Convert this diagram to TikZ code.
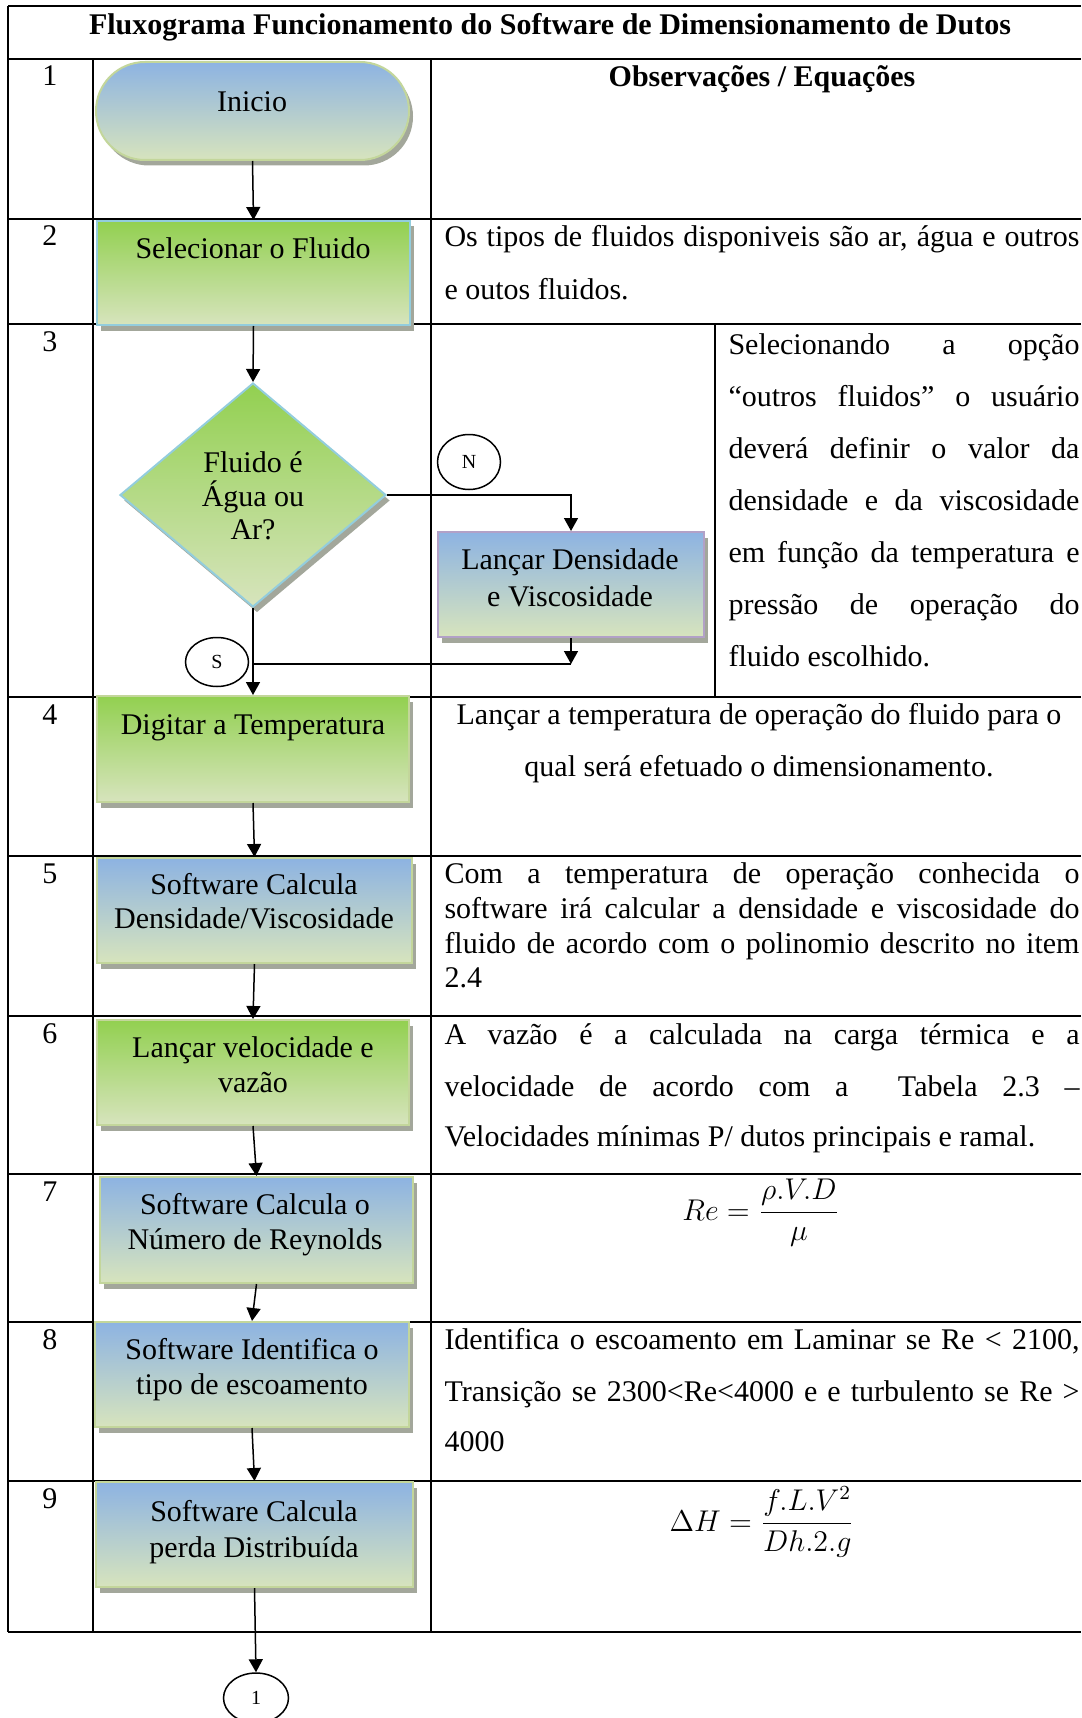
\documentclass[tikz,border=0pt]{standalone}
\usepackage{fontspec}
\setmainfont{Liberation Serif}
\usetikzlibrary{shapes.geometric,arrows.meta,shadows}
\definecolor{gtop}{HTML}{92D050}
\definecolor{btop}{HTML}{8DB3E2}
\definecolor{lbot}{HTML}{D7E4BD}
\definecolor{bdgreen}{HTML}{C3D69B}
\definecolor{bdblue}{HTML}{93CDDD}
\definecolor{bdpurple}{HTML}{B2A1C7}
\definecolor{shd}{HTML}{A3A79B}
\newcommand\JLine[2]{\makebox[#1][s]{#2}}
\begin{document}
\begin{tikzpicture}[x=0.4pt,y=-0.4pt, font=\fontsize{12}{14}\selectfont,
  tline/.style={line width=0.8pt},
  arr/.style={line width=0.6pt, -{Triangle[length=5.2pt,width=5.6pt]}},
  ln/.style={line width=0.6pt},
  shadowed/.style={drop shadow={shadow xshift=1.6pt,shadow yshift=-2.2pt,fill=shd,opacity=1}},
  boxbase/.style={rectangle, shadowed, line width=0.8pt, inner sep=0pt},
  gbox/.style={boxbase, draw=bdgreen, top color=gtop, bottom color=lbot},
  bbox/.style={boxbase, draw=bdgreen, top color=btop, bottom color=lbot},
  conn/.style={ellipse, draw, line width=0.6pt, fill=white, inner sep=0pt, font=\fontsize{8}{9}\selectfont},
  lab/.style={inner sep=0pt, anchor=base},
  labw/.style={inner sep=0pt, anchor=base west},
]
\useasboundingbox (0,0) rectangle (1081,1718);

% ---------- table ----------
\foreach \yy in {6,59,219,324,697,856,1016,1174,1322,1481,1632}
  \draw[tline] (8,\yy) -- (1081,\yy);
\draw[tline] (8,6) -- (8,1632);
\draw[tline] (93,59) -- (93,1632);
\draw[tline] (431,59) -- (431,1632);
\draw[tline] (715,324) -- (715,697);

\node[lab, font=\fontsize{12}{14}\selectfont\bfseries] (title) at (550,35)
  {Fluxograma Funcionamento do Software de Dimensionamento de Dutos};
\node[lab, font=\fontsize{12}{14}\selectfont\bfseries] (obs) at (762,87)
  {Observações / Equações};

\node[lab] (n1) at (50,86) {1};
\node[lab] (n2) at (50,246) {2};
\node[lab] (n3) at (50,351) {3};
\node[lab] (n4) at (50,724) {4};
\node[lab] (n5) at (50,883) {5};
\node[lab] (n6) at (50,1043) {6};
\node[lab] (n7) at (50,1201) {7};
\node[lab] (n8) at (50,1349) {8};
\node[lab] (n9) at (50,1508) {9};

% ---------- right column texts ----------
\node[labw] (r2a) at (444,247) {\JLine{254pt}{Os tipos de fluidos disponiveis são ar, água e outros}};
\node[labw] (r2b) at (444,299) {e outos fluidos.};

\node[labw] (r3a) at (728,354) {\JLine{140.4pt}{Selecionando a opção}};
\node[labw] (r3b) at (728,406) {\JLine{140.4pt}{“outros fluidos” o usuário}};
\node[labw] (r3c) at (728,458) {\JLine{140.4pt}{deverá definir o valor da}};
\node[labw] (r3d) at (728,510) {\JLine{140.4pt}{densidade e da viscosidade}};
\node[labw] (r3e) at (728,562) {\JLine{140.4pt}{em função da temperatura e}};
\node[labw] (r3f) at (728,614) {\JLine{140.4pt}{pressão de operação do}};
\node[labw] (r3g) at (728,666) {fluido escolhido.};

\node[lab] (r4a) at (759,724) {Lançar a temperatura de operação do fluido para o};
\node[lab] (r4b) at (759,776) {qual será efetuado o dimensionamento.};

\node[labw] (r5a) at (444,883) {\JLine{254pt}{Com a temperatura de operação conhecida o}};
\node[labw] (r5b) at (444,918) {\JLine{254pt}{software irá calcular a densidade e viscosidade do}};
\node[labw] (r5c) at (444,953) {\JLine{254pt}{fluido de acordo com o polinomio descrito no item}};
\node[labw] (r5d) at (444,987) {2.4};

\node[labw] (r6a) at (444,1044) {\JLine{254pt}{A vazão é a calculada na carga térmica e a}};
\node[labw] (r6b) at (444,1096) {\JLine{254pt}{velocidade de acordo com a\ \ Tabela 2.3 –}};
\node[labw] (r6c) at (444,1146) {Velocidades mínimas P/ dutos principais e ramal.};

\node[lab] (eqre) at (761,1220) {$\displaystyle Re=\frac{\rho.V.D}{\mu}$};

\node[labw] (r8a) at (444,1349) {\JLine{254pt}{Identifica o escoamento em Laminar se Re < 2100,}};
\node[labw] (r8b) at (444,1401) {\JLine{254pt}{Transição se 2300<Re<4000 e e turbulento se Re >}};
\node[labw] (r8c) at (444,1451) {4000};

\node[lab] (eqdh) at (762,1531) {$\displaystyle \Delta H=\frac{f.L.V^{2}}{Dh.2.g}$};

% ---------- flow shapes ----------
\node[boxbase, rounded corners=19.6pt, draw=bdgreen, top color=btop, bottom color=lbot,
      minimum width=125.2pt, minimum height=39.2pt] (ini) at (252.5,111) {};
\node[boxbase, draw=bdblue, top color=gtop, bottom color=lbot,
      minimum width=125.2pt, minimum height=41.6pt] (sel) at (253.5,273) {};
\node[diamond, shadowed, draw=bdblue, line width=0.8pt, top color=gtop, bottom color=lbot,
      inner sep=0pt, minimum width=106.4pt, minimum height=89.6pt] (dia) at (253,495) {};
\node[boxbase, draw=bdpurple, top color=btop, bottom color=lbot,
      minimum width=106.4pt, minimum height=42pt] (lan) at (571,584.5) {};
\node[gbox, minimum width=124.8pt, minimum height=42.4pt] (dig) at (253,749) {};
\node[bbox, minimum width=126pt, minimum height=42pt] (b5) at (254.5,910.5) {};
\node[gbox, minimum width=124.8pt, minimum height=42pt] (b6) at (253,1072.5) {};
\node[bbox, minimum width=125.2pt, minimum height=42.4pt] (b7) at (256.5,1230) {};
\node[bbox, minimum width=125.6pt, minimum height=42pt] (b8) at (252,1374.5) {};
\node[bbox, minimum width=126.8pt, minimum height=42pt] (b9) at (254.5,1534.5) {};

% shape texts
\node[lab] (tini) at (252,112) {Inicio};
\node[lab] (tsel) at (253,259) {Selecionar o Fluido};
\node[lab] (tdia1) at (253,472) {Fluido é};
\node[lab] (tdia2) at (253,506) {Água ou};
\node[lab] (tdia3) at (253,539) {Ar?};
\node[lab] (tlan1) at (570,569) {Lançar Densidade};
\node[lab] (tlan2) at (570,606) {e Viscosidade};
\node[lab] (tdig) at (253,734) {Digitar a Temperatura};
\node[lab] (tb5a) at (254,894) {Software Calcula};
\node[lab] (tb5b) at (254,928) {Densidade/Viscosidade};
\node[lab] (tb6a) at (253,1057) {Lançar velocidade e};
\node[lab] (tb6b) at (253,1092) {vazão};
\node[lab] (tb7a) at (255,1214) {Software Calcula o};
\node[lab] (tb7b) at (255,1249) {Número de Reynolds};
\node[lab] (tb8a) at (252,1359) {Software Identifica o};
\node[lab] (tb8b) at (252,1394) {tipo de escoamento};
\node[lab] (tb9a) at (254,1521) {Software Calcula};
\node[lab] (tb9b) at (254,1557) {perda Distribuída};

% connector circles
\node[conn, minimum width=25.2pt, minimum height=22pt] (cN) at (469,462) {N};
\node[conn, minimum width=25.2pt, minimum height=19.6pt] (cS) at (217,662) {S};
\node[conn, minimum width=26pt, minimum height=20pt] (c1) at (256,1698) {1};

% ---------- connectors ----------
\coordinate (sj) at (571,664);
\coordinate (mj) at (253,664);
\draw[arr] (ini.south) -- (sel.north);
\draw[arr] (sel.south) -- (dia.north);
\draw[arr] (dia.east) -| (lan.north);
\draw[arr] (lan.south) -- (sj);
\draw[ln] (mj) -- (sj);
\draw[arr] (dia.south) -- (dig.north);
\draw[arr] (dig.south) -- (b5.north);
\draw[arr] (b5.south) -- (b6.north);
\draw[arr] (b6.south) -- (b7.north);
\draw[arr] (b7.south) -- (b8.north);
\draw[arr] (b8.south) -- (b9.north);
\draw[arr] (b9.south) -- (c1.north);
\end{tikzpicture}
\end{document}
